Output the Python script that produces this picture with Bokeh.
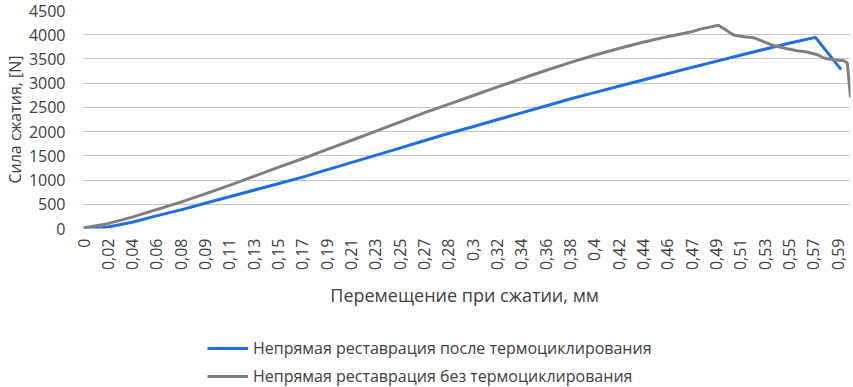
import math
from bokeh.plotting import figure
from bokeh.layouts import column
from bokeh.models import Range1d, FixedTicker, Legend, LegendItem
from bokeh.embed import file_html
from bokeh.resources import INLINE

# category labels on the x axis (mm), one every STEP mm
x_labels = ["0", "0,02", "0,04", "0,06", "0,08", "0,09", "0,11", "0,13", "0,15", "0,17",
            "0,19", "0,21", "0,23", "0,25", "0,27", "0,28", "0,3", "0,32", "0,34", "0,36",
            "0,38", "0,4", "0,42", "0,44", "0,46", "0,47", "0,49", "0,51", "0,53", "0,55",
            "0,57", "0,59"]
STEP = 0.019
X_END = 0.5991

# series: after thermocycling (blue)
blue_x = [0.0, 0.0117, 0.019, 0.038, 0.057, 0.076, 0.095, 0.114, 0.133, 0.152, 0.171,
          0.19, 0.209, 0.228, 0.247, 0.266, 0.285, 0.304, 0.323, 0.342, 0.361,
          0.38, 0.399, 0.418, 0.437, 0.456, 0.475, 0.494, 0.513, 0.532, 0.551,
          0.5717, 0.5918]
blue_y = [0, 0, 30, 130, 260, 385, 520, 655, 790, 925, 1060,
          1210, 1360, 1510, 1660, 1812, 1960, 2100, 2245, 2387, 2530,
          2673, 2805, 2935, 3065, 3195, 3325, 3450, 3575, 3700, 3825,
          3945, 3280]

# series: without thermocycling (gray)
gray_x = [0.0, 0.019, 0.038, 0.057, 0.076, 0.095, 0.114, 0.133, 0.152, 0.171,
          0.19, 0.209, 0.228, 0.247, 0.266, 0.285, 0.304, 0.323, 0.342, 0.361,
          0.38, 0.399, 0.418, 0.437, 0.456, 0.475, 0.4817, 0.4960, 0.4999, 0.5078,
          0.5156, 0.5234, 0.5312, 0.5391, 0.5496, 0.5574, 0.5652, 0.5731, 0.5782,
          0.5861, 0.5939, 0.5966, 0.5991]
gray_y = [10, 100, 235, 390, 545, 715, 890, 1075, 1260, 1440,
          1628, 1817, 2006, 2195, 2386, 2563, 2741, 2918, 3092, 3262,
          3425, 3575, 3715, 3845, 3960, 4060, 4115, 4195, 4128, 3993,
          3959, 3939, 3858, 3777, 3709, 3669, 3642, 3588, 3520,
          3485, 3465, 3417, 2706]

y_ticks = [0, 500, 1000, 1500, 2000, 2500, 3000, 3500, 4000, 4500]

series_names = ["Непрямая реставрация после термоциклирования",
                "Непрямая реставрация без термоциклирования"]
BLUE = "#1f6fe3"
GRAY = "#7f7f7f"
TXT = "#404040"
FONT = "Open Sans"

p = figure(width=853, height=310, output_backend="svg", toolbar_location=None,
           x_range=Range1d(0, X_END), y_range=Range1d(0, 4500),
           min_border_top=10, min_border_left=83, min_border_right=3, min_border_bottom=80)
p.outline_line_color = None
p.background_fill_color = "white"

r_blue = p.line(blue_x, blue_y, line_color=BLUE, line_width=3)
r_gray = p.line(gray_x, gray_y, line_color=GRAY, line_width=3)

tick_pos = [round(i * STEP, 4) for i in range(len(x_labels))]
p.xaxis.ticker = FixedTicker(ticks=tick_pos)
p.xaxis.major_label_overrides = {t: l for t, l in zip(tick_pos, x_labels)}
p.xaxis.major_label_orientation = math.pi / 2
p.yaxis.ticker = FixedTicker(ticks=y_ticks)

for ax in (p.xaxis[0], p.yaxis[0]):
    ax.axis_line_color = None
    ax.major_tick_line_color = None
    ax.minor_tick_line_color = None
    ax.major_tick_out = 0
    ax.major_tick_in = 0
    ax.major_label_text_font = FONT
    ax.major_label_text_font_size = "16px"
    ax.major_label_text_color = TXT
    ax.axis_label_text_font = FONT
    ax.axis_label_text_font_style = "normal"
    ax.axis_label_text_color = TXT

p.xaxis.axis_label_text_font_size = "18px"
p.yaxis.axis_label_text_font_size = "16px"
p.xaxis.axis_label = "Перемещение  при сжатии, мм"
p.yaxis.axis_label = "Сила сжатия, [N]"
p.xaxis.major_label_standoff = 10
p.xaxis.axis_label_standoff = 10
p.yaxis.major_label_standoff = 18
p.yaxis.axis_label_standoff = 0

p.xgrid.grid_line_color = None
p.ygrid.grid_line_color = "#c6c6c6"
p.ygrid.grid_line_width = 1

# legend strip below the chart (same series, drawn outside its visible range)
lg = figure(width=853, height=77, output_backend="svg", toolbar_location=None,
            x_range=Range1d(0, 1), y_range=Range1d(-2, -1),
            x_axis_type=None, y_axis_type=None, min_border=0)
lg.outline_line_color = None
lg.xgrid.grid_line_color = None
lg.ygrid.grid_line_color = None
k_blue = lg.line(blue_x, blue_y, line_color=BLUE, line_width=3)
k_gray = lg.line(gray_x, gray_y, line_color=GRAY, line_width=3)
legend = Legend(items=[LegendItem(label=series_names[0], renderers=[k_blue]),
                       LegendItem(label=series_names[1], renderers=[k_gray])],
                location=(124, 0), orientation="vertical",
                glyph_width=41, glyph_height=20, label_height=20, label_standoff=5,
                spacing=6, padding=0, margin=0,
                border_line_color=None, background_fill_alpha=0,
                label_text_font=FONT, label_text_font_size="16px", label_text_color=TXT)
lg.add_layout(legend, "center")

open("out.html", "w").write(file_html(column(p, lg, spacing=0), INLINE))
